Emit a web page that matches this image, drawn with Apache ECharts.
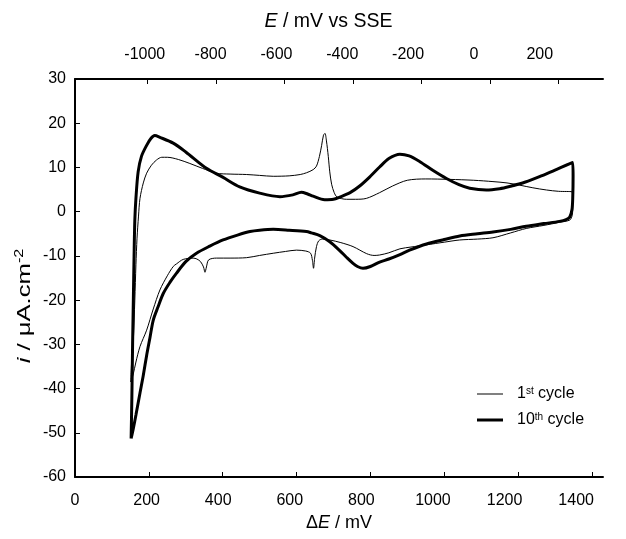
<!DOCTYPE html>
<html>
<head>
<meta charset="utf-8">
<script src="https://cdn.jsdelivr.net/npm/echarts@6/dist/echarts.min.js"></script>
<style>html,body{margin:0;padding:0;background:#fff}#c{width:626px;height:539px}</style>
</head>
<body>
<div id="c"></div>
<script>
// ΔE (mV) vs i (µA/cm²) pairs, traced in scan order
const cycle1 = [
[151,-38.5],[154,-33],[158,-29],[162,-20],[165,-12],[168,-6],[172,-1],[176,3],[185,6.5],[194,8.7],[207,10.5],[221,11.7],[235,12.3],[250,12.3],[280,11.8],[311,10.9],[345,9.8],[383,8.7],[420,8.5],[465,8.4],[500,8.2],[537,8.0],[580,8.1],[610,8.4],[627,8.8],[645,9.5],[654,10.3],[662,12.5],[668,15],[673,17.3],[677,17.7],[681,16],[686,12.5],[690,9],[695,6.2],[702,4.3],[710,3.3],[735,2.8],[760,2.8],[789,3.0],[825,4.3],[860,5.8],[900,7.1],[950,7.4],[1015,7.3],[1080,7.1],[1132,6.8],[1170,6.5],[1204,6.0],[1240,5.4],[1277,4.9],[1310,4.6],[1346,4.5],
[1348,3],[1348,0.5],[1346,-1],[1340,-1.9],[1313,-2.4],[1270,-3.1],[1222,-3.8],[1180,-4.8],[1132,-5.9],[1090,-6.2],[1042,-6.4],[1000,-6.9],[952,-7.5],[910,-8],[880,-8.4],[850,-9.3],[825,-9.8],[810,-9.9],[790,-9.5],[753,-7.9],[720,-7.0],[690,-6.4],[670,-6.2],[660,-6.6],[654,-7.9],[649,-10.5],[646,-12.8],[643,-11],[638,-9.4],[625,-8.9],[600,-8.7],[570,-9.0],[537,-9.4],[500,-9.9],[465,-10.4],[420,-10.5],[383,-10.5],[362,-10.9],[356,-12.5],[352,-13.7],[348,-12.5],[340,-11.3],[330,-10.7],[320,-10.5],[293,-10.8],[275,-11.8],[266,-12.4],[250,-14.5],[230,-17.7],[212,-22],[194,-26.8],[176,-30.5],[165,-34],[157,-37],[151,-38.5]
];
const cycle10 = [
[152,-51.3],[154,-42],[156,-30],[158,-20],[160,-10],[162,-2],[165,3],[171,9],[180,12.5],[194,15],[205,16.5],[216,17.2],[230,16.8],[266,15.5],[300,13.5],[356,9.8],[400,7.8],[446,5.6],[500,4.2],[555,3.4],[590,3.8],[613,4.4],[630,4.0],[645,3.5],[676,2.7],[700,2.8],[717,3.3],[745,4.3],[771,5.8],[800,8],[825,10.1],[850,12],[880,13.0],[905,12.6],[934,11.3],[970,9.3],[1006,7.5],[1040,6.1],[1069,5.3],[1114,4.9],[1150,5.2],[1177,5.7],[1220,6.7],[1258,7.9],[1300,9.4],[1348,11.1],
[1349,8],[1348,3],[1346,0.5],[1340,-1.2],[1330,-1.8],[1312,-2.2],[1270,-2.7],[1222,-3.3],[1180,-4],[1132,-4.6],[1090,-5],[1042,-5.5],[1000,-6.3],[952,-7.3],[906,-8.7],[880,-9.7],[850,-10.7],[825,-11.4],[800,-12.4],[780,-12.8],[765,-12.4],[753,-11.7],[735,-10.3],[717,-8.8],[690,-6.8],[663,-5.4],[640,-4.8],[627,-4.5],[580,-4.2],[537,-4.0],[500,-4.2],[474,-4.5],[440,-5.3],[401,-6.4],[365,-7.8],[329,-9.4],[300,-11.3],[275,-13.9],[257,-16],[239,-18.5],[225,-21.5],[212,-24.5],[203,-28.5],[194,-32.5],[185,-37],[176,-41],[165,-46],[158,-49],[152,-51.3]
];
const bottomTicks = [0,200,400,600,800,1000,1200,1400];
const topTicks = [-1000,-800,-600,-400,-200,0,200];
const seriesNames = ['1st cycle','10th cycle'];

const FONT = '"Liberation Sans", Arial, Helvetica, sans-serif';
const chart = echarts.init(document.getElementById('c'), null, {renderer:'canvas'});
const axisLineStyle = {color:'#000', width:2};
const tickStyle = {color:'#000', width:1};
const plain = function(v){ return String(v); };
const labelStyle = {color:'#000', fontSize:16, fontFamily:FONT, formatter:plain};
const gridBox = {left:75, top:79, width:528, height:398, containLabel:false};

chart.setOption({
  animation:false,
  backgroundColor:'#fff',
  grid:[Object.assign({}, gridBox), Object.assign({}, gridBox)],
  legend:{
    orient:'vertical', left:477, top:386, padding:0, itemWidth:26, itemHeight:14, itemGap:10,
    data:[
      {name:seriesNames[0], icon:'path://M0 0H26V1H0Z'},
      {name:seriesNames[1], icon:'path://M0 0H26V3H0Z'}
    ],
    itemStyle:{color:'#000', borderWidth:0},
    formatter:function(n){ return n==='1st cycle' ? '1{sup|st} cycle' : '10{sup|th} cycle'; },
    textStyle:{color:'#000', fontSize:16, fontFamily:FONT, padding:[0,0,0,9],
      rich:{sup:{fontSize:10, fontFamily:FONT, color:'#000', verticalAlign:'top', lineHeight:10}}}
  },
  xAxis:[
    // main ΔE axis (ticks + line)
    {type:'value', gridIndex:0, position:'bottom', min:0, max:1430,
     axisLine:{show:true, onZero:false, lineStyle:axisLineStyle},
     axisTick:{show:true, inside:true, length:5, customValues:bottomTicks, lineStyle:tickStyle},
     axisLabel:{show:false},
     splitLine:{show:false}
    },
    // E vs SSE axis (ticks + line)
    {type:'value', gridIndex:0, position:'top', min:-1212.5, max:330.7,
     axisLine:{show:true, onZero:false, lineStyle:axisLineStyle},
     axisTick:{show:true, inside:true, length:5, customValues:topTicks, lineStyle:tickStyle},
     axisLabel:{show:false},
     splitLine:{show:false}
    },
    // ΔE tick labels
    {type:'value', gridIndex:1, position:'bottom', min:0, max:1475,
     axisLine:{show:false, onZero:false}, axisTick:{show:false},
     axisLabel:{customValues:bottomTicks, margin:16, ...labelStyle},
     splitLine:{show:false},
     name:'{d|Δ}{it|E} / mV', nameLocation:'middle', nameGap:35,
     nameTextStyle:{color:'#000', fontSize:18, fontFamily:FONT,
       rich:{d:{fontSize:18,fontFamily:FONT,color:'#000'}, it:{fontSize:18,fontStyle:'italic',fontFamily:FONT,color:'#000'}}}
    },
    // E vs SSE tick labels
    {type:'value', gridIndex:1, position:'top', min:-1212, max:392,
     axisLine:{show:false, onZero:false}, axisTick:{show:false},
     axisLabel:{customValues:topTicks, margin:16, ...labelStyle},
     splitLine:{show:false},
     name:'{it|E} / mV vs SSE', nameLocation:'middle', nameGap:47,
     nameTextStyle:{color:'#000', fontSize:19.5, fontFamily:FONT, padding:[0,21,0,0],
       rich:{it:{fontSize:19.5,fontStyle:'italic',fontFamily:FONT,color:'#000'}}}
    }
  ],
  yAxis:[
    {type:'value', gridIndex:0, min:-60, max:30, interval:10,
     axisLine:{show:true, onZero:false, lineStyle:axisLineStyle},
     axisTick:{show:true, inside:true, length:5, lineStyle:tickStyle},
     axisLabel:{margin:9, ...labelStyle},
     splitLine:{show:false}
    },
    {type:'value', gridIndex:1, min:-60, max:30, show:false}
  ],
  graphic:[{
    type:'text', x:25, y:306, rotation:Math.PI/2, scaleX:1.35,
    style:{text:'{it|i} / μA.cm{sup|-2}', fill:'#000', font:'19px '+FONT, align:'center', verticalAlign:'middle',
      rich:{it:{fontStyle:'italic', fontSize:19, fontFamily:FONT, fill:'#000', lineHeight:22},
            sup:{fontSize:12, fontFamily:FONT, fill:'#000', verticalAlign:'top', lineHeight:12}}}
  }],
  series:[
    {name:seriesNames[0], type:'line', xAxisIndex:0, yAxisIndex:0, data:cycle1, symbol:'none', showSymbol:false, smooth:0.3,
     lineStyle:{color:'#000', width:1}, itemStyle:{color:'#000'}},
    {name:seriesNames[1], type:'line', xAxisIndex:0, yAxisIndex:0, data:cycle10, symbol:'none', showSymbol:false, smooth:0.3,
     lineStyle:{color:'#000', width:3}, itemStyle:{color:'#000'}}
  ]
});
</script>
</body>
</html>
